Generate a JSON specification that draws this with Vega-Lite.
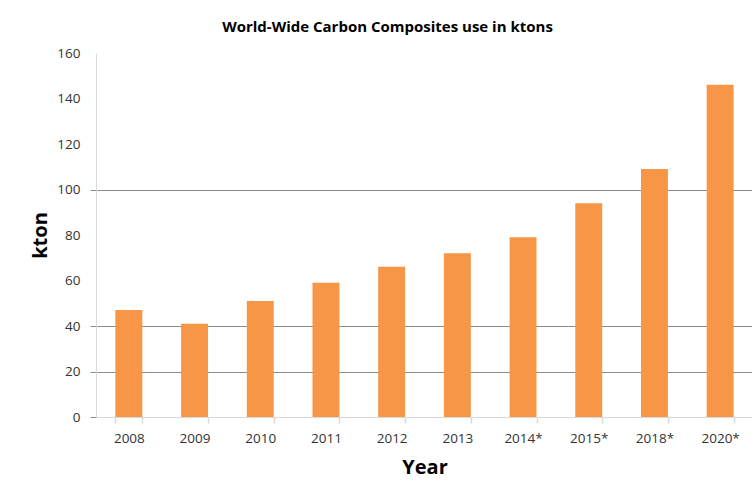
{
  "$schema": "https://vega.github.io/schema/vega-lite/v6.json",
  "autosize": "none",
  "width": 657,
  "height": 364,
  "padding": {"left": 96, "top": 53, "right": 0, "bottom": 74},
  "background": "white",
  "title": {
    "text": "World-Wide Carbon Composites use in ktons",
    "font": "Open Sans",
    "fontSize": 15,
    "fontWeight": "bold",
    "color": "#000000",
    "anchor": "middle",
    "dx": -37,
    "offset": 11
  },
  "data": {
    "values": [
      {"year": "2008", "kton": 47},
      {"year": "2009", "kton": 41},
      {"year": "2010", "kton": 51},
      {"year": "2011", "kton": 59},
      {"year": "2012", "kton": 66},
      {"year": "2013", "kton": 72},
      {"year": "2014*", "kton": 79},
      {"year": "2015*", "kton": 94},
      {"year": "2018*", "kton": 109},
      {"year": "2020*", "kton": 146}
    ]
  },
  "mark": {"type": "bar", "color": "#F79646"},
  "encoding": {
    "x": {
      "field": "year",
      "type": "ordinal",
      "sort": null,
      "scale": {"paddingInner": 0.59, "paddingOuter": 0.295},
      "axis": {
        "title": "Year",
        "titleFont": "Open Sans",
        "titleFontSize": 20,
        "titleFontWeight": "bold",
        "titleColor": "#000000",
        "titlePadding": 13,
        "labelAngle": 0,
        "labelFont": "Open Sans",
        "labelFontSize": 13.5,
        "labelColor": "#333333",
        "labelPadding": 8,
        "tickBand": "extent",
        "tickSize": 6,
        "tickColor": "#d9d9d9",
        "tickWidth": 1.5,
        "domainColor": "#d9d9d9",
        "grid": false
      }
    },
    "y": {
      "field": "kton",
      "type": "quantitative",
      "scale": {"domain": [0, 160], "nice": false},
      "axis": {
        "title": "kton",
        "titleFont": "Open Sans",
        "titleFontSize": 20,
        "titleFontWeight": "bold",
        "titleColor": "#000000",
        "titleX": -56,
        "titleY": 182,
        "titleAlign": "center",
        "titleBaseline": "middle",
        "values": [0, 20, 40, 60, 80, 100, 120, 140, 160],
        "labelFont": "Open Sans",
        "labelFontSize": 13.5,
        "labelColor": "#333333",
        "labelPadding": 10,
        "tickSize": 6,
        "tickColor": {"condition": {"test": "datum.value == 0 || datum.value == 20 || datum.value == 40 || datum.value == 100", "value": "#8c8c8c"}, "value": "rgba(0,0,0,0)"},
        "domainColor": "#d9d9d9",
        "grid": true,
        "gridColor": {"condition": {"test": "datum.value == 20 || datum.value == 40 || datum.value == 100", "value": "#8c8c8c"}, "value": "rgba(0,0,0,0)"},
        "gridWidth": 1.2
      }
    }
  },
  "config": {"view": {"stroke": null}}
}
